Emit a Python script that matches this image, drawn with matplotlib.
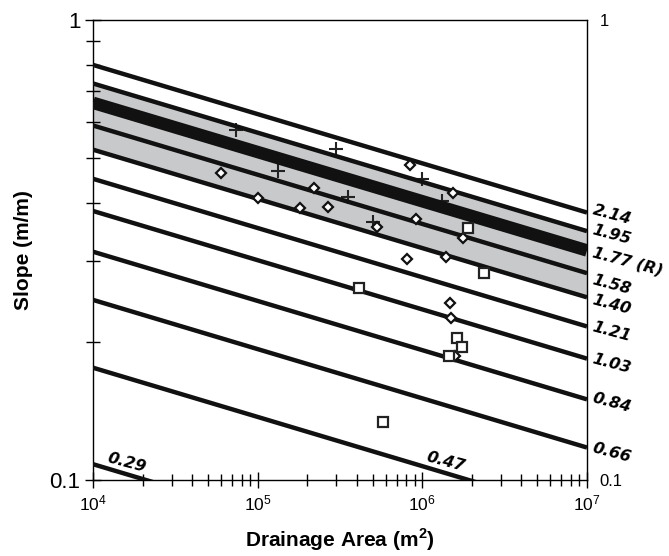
import numpy as np
import matplotlib
matplotlib.use('Agg')
import matplotlib.pyplot as plt
from matplotlib.ticker import LogLocator, NullFormatter, FixedLocator, FixedFormatter

plt.rcParams['font.family'] = 'Liberation Sans'
plt.rcParams['mathtext.fontset'] = 'custom'
plt.rcParams['mathtext.rm'] = 'Liberation Sans'
plt.rcParams['mathtext.bf'] = 'Liberation Sans:bold'

# steepness lines  S = ks * A^-theta
ks = [2.14, 1.95, 1.77, 1.58, 1.40, 1.21, 1.03, 0.84, 0.66, 0.47, 0.29]
ks_text = ['2.14', '1.95', '1.77 (R)', '1.58', '1.40', '1.21', '1.03', '0.84', '0.66', '0.47', '0.29']
theta = 0.107
ks_ref = 1.77
band_lo, band_hi = 1.40, 1.95

# data points (drainage area m2, slope m/m)
plus_A = [7.4e4, 3.0e5, 1.33e5, 3.54e5, 1.0e6, 1.31e6, 5.0e5]
plus_S = [0.577, 0.524, 0.470, 0.412, 0.451, 0.404, 0.364]

diam_A = [6.0e4, 1.0e5, 2.2e5, 1.81e5, 2.67e5, 8.4e5, 1.53e6, 9.1e5, 5.3e5,
          1.77e6, 8.1e5, 1.39e6, 1.47e6, 1.49e6, 1.58e6]
diam_S = [0.465, 0.410, 0.431, 0.390, 0.392, 0.484, 0.421, 0.369, 0.355,
          0.336, 0.302, 0.305, 0.2425, 0.225, 0.186]

sq_A = [1.89e6, 2.37e6, 4.12e5, 1.62e6, 1.74e6, 1.45e6, 5.77e5]
sq_S = [0.353, 0.282, 0.2615, 0.204, 0.1945, 0.186, 0.1337]

fig = plt.figure(figsize=(6.69, 5.56), dpi=100)
ax = fig.add_axes([93/669, 1-480/556, (587-93)/669, 460/556])

A = np.array([1e4, 1e7])
ax.fill_between(A, band_lo*A**-theta, band_hi*A**-theta, color='#c8c9cb', lw=0, zorder=1)
for k in ks:
    lw = 9 if k == ks_ref else 3.2
    ax.plot(A, k*A**-theta, color='#111111', lw=lw, solid_capstyle='butt', zorder=3)

ax.plot(plus_A, plus_S, ls='none', marker='+', ms=10, mew=1.5, color='#222222', zorder=2)
ax.plot(diam_A, diam_S, ls='none', marker='D', ms=5.2, mew=1.6, mfc='white', mec='#111111', zorder=4)
ax.plot(sq_A, sq_S, ls='none', marker='s', ms=6.5, mew=1.6, mfc='white', mec='#222222', zorder=4)

ax.set_xscale('log')
ax.set_yscale('log')
ax.set_xlim(1e4, 1e7)
ax.set_ylim(0.1, 1)

# line labels
lab_font = dict(family='DejaVu Sans', weight='bold', style='italic', size=11.5)
right_dy = [2, 1, -1, -5, -2, 0, 0, 1, 0]
for k, t, dy in zip(ks[:9], ks_text[:9], right_dy):
    ax.annotate(t, xy=(1e7, k*1e7**-theta), xytext=(4, dy), textcoords='offset points',
                ha='left', va='center', rotation=-15, rotation_mode='anchor',
                annotation_clip=False, **lab_font)
for k, t, a in [(0.47, '0.47', 1.39e6), (0.29, '0.29', 1.6e4)]:
    ax.annotate(t, xy=(a, k*a**-theta), xytext=(0, 8), textcoords='offset points',
                ha='center', va='center', rotation=-15, rotation_mode='anchor', **lab_font)

ax.set_xticks([1e4, 1e5, 1e6, 1e7])
ax.set_xticklabels([r'$\mathregular{10^{4}}$', r'$\mathregular{10^{5}}$',
                    r'$\mathregular{10^{6}}$', r'$\mathregular{10^{7}}$'])
ax.xaxis.set_minor_locator(LogLocator(base=10, subs=np.arange(2, 10)))
ax.xaxis.set_minor_formatter(NullFormatter())
ax.set_yticks([0.1, 1])
ax.set_yticklabels(['0.1', '1'])
ax.yaxis.set_minor_locator(LogLocator(base=10, subs=np.arange(2, 10)))
ax.yaxis.set_minor_formatter(NullFormatter())

ax.tick_params(axis='x', which='major', direction='inout', length=12, width=1, labelsize=12.5, pad=4)
ax.tick_params(axis='x', which='minor', direction='inout', length=8.5, width=1)
ax.tick_params(axis='y', which='major', direction='inout', length=12, width=1, labelsize=16, pad=3)
ax.tick_params(axis='y', which='minor', direction='inout', length=10, width=1)
for s in ax.spines.values():
    s.set_linewidth(1)

ax2 = ax.twinx()
ax2.set_yscale('log')
ax2.set_ylim(0.1, 1)
ax2.yaxis.set_major_locator(FixedLocator([0.1, 1]))
ax2.yaxis.set_major_formatter(FixedFormatter(['0.1', '1']))
ax2.yaxis.set_minor_locator(FixedLocator([]))
ax2.tick_params(axis='y', length=0, labelsize=12, pad=9)
for s in ax2.spines.values():
    s.set_visible(False)

ax.set_xlabel(r'Drainage Area (m$^{\mathbf{2}}$)', fontsize=15, fontweight='bold', labelpad=9)
ax.set_ylabel('Slope (m/m)', fontsize=15, fontweight='bold', labelpad=12)

fig.savefig('out.png', dpi=100)
